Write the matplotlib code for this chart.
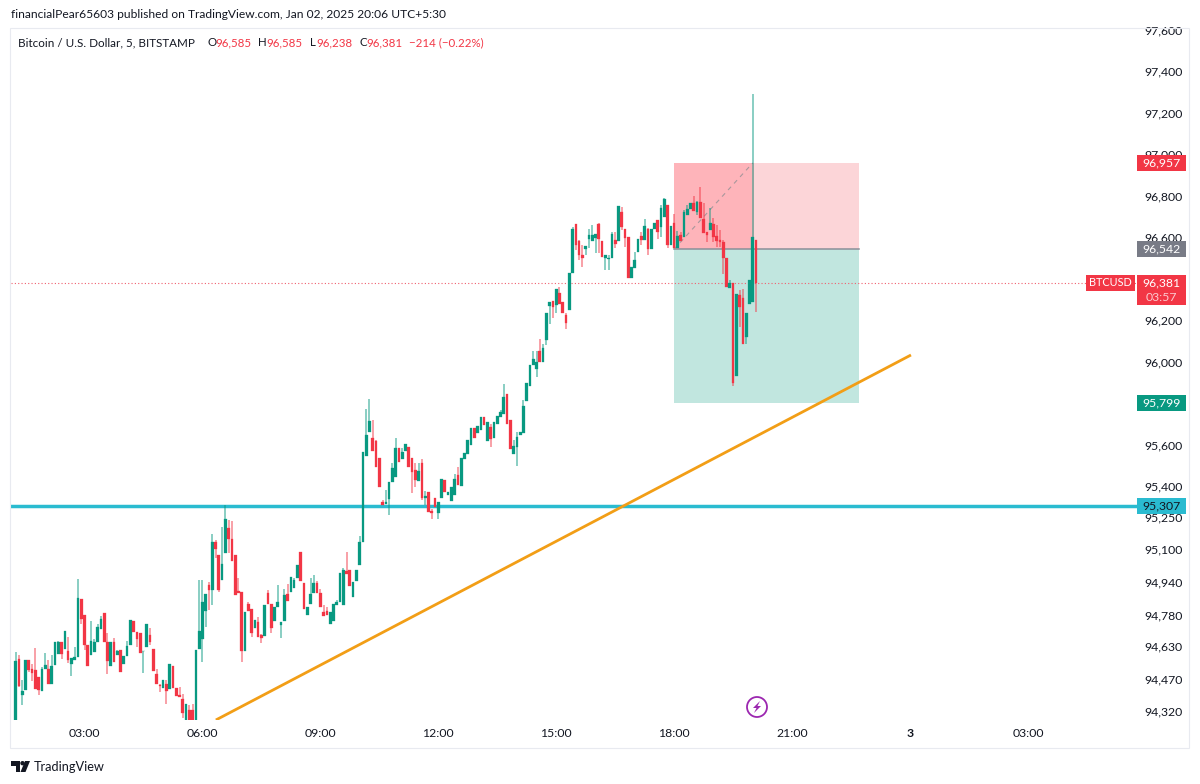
import matplotlib
matplotlib.use('Agg')
import matplotlib.pyplot as plt
from matplotlib.patches import Rectangle, Circle, Polygon
from matplotlib.transforms import Affine2D

plt.rcParams['font.family'] = ['Lato', 'DejaVu Sans']

# bars are numbered in 5 minute steps from midnight, first one is 01:15
first_bar = 15

opens = [94274,94570,94393,94417,94563,94518,94514,94481,94416,94518,
94518,94449,94538,94591,94650,94618,94608,94546,94562,94578,
94859,94782,94637,94586,94602,94650,94714,94788,94650,94535,
94650,94589,94610,94546,94583,94637,94750,94698,94695,94605,
94626,94682,94618,94497,94441,94428,94449,94425,94533,94430,
94393,94377,94274,94324,94324,94274,94618,94666,94798,94926,
94899,95129,95071,94947,95076,95199,95148,95071,94896,94891,
94605,94835,94808,94715,94747,94683,94679,94888,94834,94750,
94819,94731,94750,94883,94891,94912,94956,95081,94932,94782,
94835,94888,94936,94888,94795,94798,94734,94750,94830,94843,
94827,94991,94996,94867,94943,95020,95132,95547,95659,95633,
95617,95534,95325,95312,95338,95418,95445,95582,95531,95569,
95590,95534,95478,95424,95514,95341,95370,95280,95341,95269,
95341,95429,95360,95328,95360,95453,95402,95533,95553,95598,
95681,95655,95670,95731,95617,95686,95630,95702,95734,95750,
95842,95718,95553,95590,95649,95654,95810,95883,95986,95964,
96052,95999,96103,96269,96293,96272,96332,96285,96227,96248,
96429,96661,96580,96516,96542,96593,96580,96596,96661,96582,
96500,96494,96497,96585,96582,96722,96638,96601,96404,96452,
96529,96605,96585,96641,96542,96641,96682,96650,96698,96754,
96561,96666,96548,96609,96601,96706,96735,96762,96722,96767,
96685,96625,96635,96661,96606,96585,96577,96497,96357,96380,
95932,96323,96307,96120,96280,96285,96585]

highs = [94602,94589,94465,94563,94563,94546,94623,94481,94530,94599,
94563,94589,94650,94653,94650,94705,94674,94575,94626,94955,
94859,94782,94637,94750,94663,94738,94775,94788,94693,94650,
94669,94613,94610,94583,94655,94756,94750,94698,94695,94608,
94737,94718,94618,94522,94445,94465,94465,94544,94533,94430,
94433,94401,94353,94345,94351,94610,94950,94947,94883,94939,
95172,95140,95071,95204,95309,95236,95231,95071,94956,94891,
94795,94843,94808,94755,94771,94686,94830,94899,94834,94819,
94923,94747,94907,94927,94964,94959,95020,95081,94932,94819,
94956,94972,94943,94907,94827,94819,94792,94835,94851,94980,
95004,95081,94996,94940,94996,95161,95563,95771,95820,95718,
95622,95534,95333,95381,95421,95514,95633,95582,95582,95601,
95590,95534,95510,95510,95531,95376,95370,95290,95341,95325,
95437,95429,95373,95397,95461,95493,95537,95562,95622,95681,
95681,95691,95734,95731,95707,95702,95710,95739,95766,95890,
95842,95718,95622,95659,95662,95814,95895,95986,96050,96050,
96111,96083,96232,96288,96293,96349,96360,96285,96232,96429,
96649,96661,96585,96561,96556,96641,96658,96617,96666,96582,
96516,96513,96625,96625,96751,96746,96638,96601,96457,96529,
96593,96625,96685,96645,96641,96669,96682,96754,96786,96754,
96654,96709,96629,96625,96730,96754,96765,96799,96773,96842,
96762,96625,96738,96690,96658,96633,96585,96497,96393,96380,
96325,96344,96352,96232,96393,97287,96585]

lows = [94274,94433,94348,94417,94506,94461,94422,94393,94416,94518,
94449,94449,94538,94591,94570,94618,94549,94486,94562,94578,
94735,94610,94533,94586,94602,94650,94714,94650,94494,94535,
94554,94589,94506,94546,94583,94637,94698,94626,94599,94499,
94626,94634,94509,94446,94409,94428,94353,94425,94430,94388,
94385,94284,94274,94274,94274,94274,94618,94554,94722,94803,
94827,95052,94891,94947,95076,95076,95039,94875,94888,94551,
94605,94798,94675,94715,94675,94647,94679,94835,94691,94750,
94819,94667,94750,94846,94891,94912,94956,94943,94808,94782,
94835,94888,94888,94817,94776,94782,94734,94750,94830,94843,
94827,94978,94920,94867,94943,95020,95132,95547,95659,95569,
95494,95397,95309,95312,95261,95418,95445,95518,95531,95569,
95494,95365,95397,95424,95333,95309,95274,95241,95301,95241,
95341,95373,95360,95328,95360,95405,95402,95533,95553,95598,
95633,95655,95670,95694,95617,95590,95630,95702,95734,95750,
95702,95578,95553,95498,95649,95654,95810,95883,95986,95927,
95999,95999,96079,96179,96208,96232,96280,96232,96156,96248,
96429,96537,96489,96457,96516,96545,96580,96521,96521,96503,
96441,96441,96497,96545,96582,96633,96553,96404,96401,96452,
96529,96561,96585,96513,96542,96641,96590,96601,96698,96548,
96561,96548,96548,96580,96601,96706,96735,96725,96706,96690,
96622,96574,96635,96577,96553,96553,96420,96360,96357,95883,
95932,96168,96086,96087,96280,96285,96238]

closes = [94557,94438,94416,94563,94514,94502,94422,94417,94522,94538,
94449,94533,94650,94650,94594,94701,94562,94575,94578,94862,
94762,94634,94535,94653,94650,94722,94759,94650,94557,94650,
94554,94605,94506,94583,94629,94756,94698,94666,94599,94608,
94737,94650,94509,94446,94438,94465,94412,94544,94430,94388,
94385,94306,94353,94274,94274,94610,94705,94843,94883,94899,
95129,95097,94899,95027,95241,95148,95039,94875,94888,94605,
94795,94798,94695,94755,94675,94667,94830,94835,94718,94819,
94843,94744,94878,94846,94964,94948,95020,94943,94808,94819,
94883,94932,94888,94817,94776,94782,94792,94835,94843,94980,
94996,94978,94920,94940,94996,95132,95563,95649,95714,95569,
95494,95397,95309,95322,95418,95486,95582,95518,95566,95601,
95494,95469,95429,95473,95341,95354,95274,95269,95301,95325,
95437,95373,95373,95397,95434,95405,95537,95562,95622,95681,
95633,95691,95734,95694,95707,95626,95710,95739,95758,95829,
95702,95578,95594,95635,95659,95787,95895,95986,96015,95999,
95999,96068,96232,96288,96264,96349,96280,96232,96184,96429,
96641,96561,96513,96497,96556,96609,96609,96617,96593,96503,
96516,96500,96617,96569,96751,96650,96597,96404,96457,96489,
96593,96584,96654,96542,96641,96669,96625,96738,96783,96561,
96654,96548,96606,96580,96719,96735,96765,96725,96770,96690,
96622,96609,96666,96601,96580,96577,96497,96360,96377,95895,
96325,96264,96086,96232,96393,96601,96381]

price_ticks = [97600,97400,97200,97000,96800,96600,96400,96200,96000,95800,
               95600,95400,95250,95100,94940,94780,94630,94470,94320]
time_ticks = [36,72,108,144,180,216,252,288,324]
time_labels = ['03:00','06:00','09:00','12:00','15:00','18:00','21:00','3','03:00']

entry = 96542
stop = 96957
target = 95799
support = 95307
last = 96381
trend_x = [76.1, 288.3]
trend_y = [94274, 96032]

UP = '#089981'
DOWN = '#F23645'
INK = '#131722'

px = Affine2D().scale(1, -1).translate(0, 784)

fig = plt.figure(figsize=(12, 7.84), dpi=100)
ax = fig.add_axes([11/1200, 1 - 720/784, 1126/1200, 692/784])
ax.set_xlim(13.56, 357.3)
ax.set_ylim(94274, 97607)
for s in ax.spines.values():
    s.set_visible(False)

xs = list(range(first_bar, first_bar + len(opens)))
cols = [UP if c >= o else DOWN for o, c in zip(opens, closes)]

# position tool, stop side is darker up to the last bar
ax.add_patch(Rectangle((216, entry), 24.3, stop - entry, fc='#FEB4BA', ec='none', zorder=1))
ax.add_patch(Rectangle((240.3, entry), 32.2, stop - entry, fc='#FCD5D8', ec='none', zorder=1))
ax.add_patch(Rectangle((216, target), 56.5, entry - target, fc='#C1E6DF', ec='none', zorder=1))
ax.plot([216, 272.5], [entry, entry], color='#8B8F99', lw=1.1, zorder=1.5)
ax.plot([216, 240], [entry, stop], color='#A8979C', lw=0.8, dashes=(4, 4), zorder=1.5)

ax.axhline(support, color='#2ABBD0', lw=2.5, zorder=2)
ax.axhline(last, color='#F0606F', lw=0.8, dashes=(1, 2), zorder=2)
ax.plot(trend_x, trend_y, color='#F29E16', lw=2.0, zorder=2, solid_capstyle='butt')

ax.vlines(xs, lows, highs, colors=cols, lw=1.1, alpha=0.6, zorder=3)
ax.bar(xs, [abs(c - o) for o, c in zip(opens, closes)],
       bottom=[min(o, c) for o, c in zip(opens, closes)],
       width=0.82, color=cols, edgecolor=cols, lw=0.2, zorder=4)

ax.yaxis.tick_right()
ax.set_yticks(price_ticks)
ax.set_yticklabels(['{:,}'.format(p) for p in price_ticks])
ax.set_xticks(time_ticks)
ax.set_xticklabels(time_labels)
ax.get_xticklabels()[7].set_fontweight('bold')
ax.tick_params(axis='y', length=0, pad=5, labelsize=8.8, labelcolor=INK)
ax.tick_params(axis='x', length=0, pad=6, labelsize=8.8, labelcolor=INK)

# price tags on the right axis
tr = ax.get_yaxis_transform()
unit = (97607 - 94274) / 692.0

def tag(price, text, bg, fg='white', left=1137, width=49, below=8, size=8.8):
    x0 = (left - 11) / 1126.0
    ax.add_patch(Rectangle((x0, price - below * unit), width / 1126.0, (8 + below) * unit,
                           transform=tr, fc=bg, ec='none', clip_on=False, zorder=6))
    ax.text(x0 + width / 2252.0, price, text, transform=tr, color=fg, fontsize=size,
            ha='center', va='center', clip_on=False, zorder=7)

tag(stop, '96,957', DOWN)
tag(entry, '96,542', '#787B86')
tag(target, '95,799', UP)
tag(support, '95,307', '#2ABBD0', fg=INK)
tag(last, '96,381', DOWN, below=22)
tag(last, 'BTCUSD', DOWN, left=1086, width=49, size=7.8)
ax.text((1161.5 - 11) / 1126.0, last - 15 * unit, '03:57', transform=tr, color='#FBC9CE',
        fontsize=8.8, ha='center', va='center', clip_on=False, zorder=7)

# outer frame
fig.add_artist(Rectangle((10, 28), 1179, 720, transform=px, fc='none', ec='#E8EAF0', lw=0.8))

# header and legend
fig.text(11, 15, 'financialPear65603 published on TradingView.com, Jan 02, 2025 20:06 UTC+5:30',
         transform=px, fontsize=8.65, color=INK, va='center')
fig.text(18, 43, 'Bitcoin / U.S. Dollar, 5, BITSTAMP', transform=px, fontsize=8.4, color=INK, va='center')
for x, s, c in [(207, 'O', INK), (215, '96,585', DOWN), (258, 'H', INK), (266, '96,585', DOWN),
                (310, 'L', INK), (316, '96,238', DOWN), (359, 'C', INK), (366, '96,381', DOWN),
                (409, '\u2212214 (\u22120.22%)', DOWN)]:
    fig.text(x, 43, s, transform=px, fontsize=8.3, color=c, va='center')

# purple lightning marker
fig.add_artist(Circle((757, 707), 10, transform=px, fc='white', ec='#9C27B0', lw=1.3))
fig.add_artist(Polygon([(760, 701), (753, 708), (756.5, 708), (754, 713), (761, 706), (757.5, 706)],
                       transform=px, fc='#9C27B0', ec='none'))

# TradingView logo
fig.add_artist(Polygon([(11, 761), (20, 761), (20, 772), (15.5, 772), (15.5, 766), (11, 766)],
                       transform=px, fc=INK, ec='none'))
fig.add_artist(Circle((22.5, 763.2), 2.2, transform=px, fc=INK, ec='none'))
fig.add_artist(Polygon([(25, 761), (30, 761), (25.5, 772), (20.5, 772)], transform=px, fc=INK, ec='none'))
fig.text(34, 767, 'TradingView', transform=px, fontsize=9.2, color=INK, va='center')

fig.savefig('out.png', dpi=100)
